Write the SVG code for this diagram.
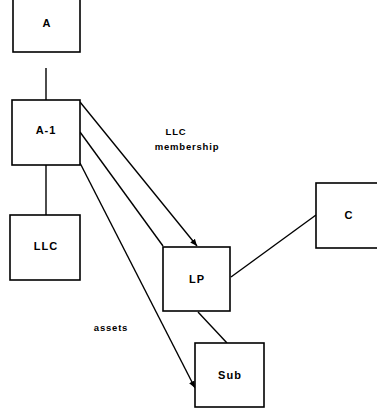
<svg xmlns="http://www.w3.org/2000/svg" width="377" height="408" viewBox="0 0 377 408">
<style>
.box{fill:#fff;stroke:#000;stroke-width:1.6}
.lbl{font-family:"Liberation Sans",Arial,sans-serif;font-weight:bold;font-size:11px;text-anchor:middle;fill:#000;letter-spacing:1px}
.small{font-family:"Liberation Sans",Arial,sans-serif;font-weight:bold;font-size:9.5px;text-anchor:middle;fill:#000;letter-spacing:0.8px}
.edge{stroke:#000;stroke-width:1.4;fill:none}
</style>
<defs>
<marker id="arr" markerWidth="8" markerHeight="8" refX="7" refY="4" orient="auto" markerUnits="userSpaceOnUse">
<path d="M0,1 L7,4 L0,7 Z" fill="#000"/>
</marker>
</defs>
<rect width="377" height="408" fill="#fff"/>
<g id="connectors">
<line class="edge" x1="46" y1="68" x2="46" y2="100"/>
<line class="edge" x1="46" y1="165" x2="46" y2="215"/>
<line class="edge" x1="80" y1="102" x2="197" y2="246" marker-end="url(#arr)"/>
<line class="edge" x1="80" y1="132" x2="163" y2="246"/>
<line class="edge" x1="80" y1="163" x2="195" y2="388" marker-end="url(#arr)"/>
<line class="edge" x1="231" y1="277" x2="316" y2="215"/>
<line class="edge" x1="198" y1="312" x2="227" y2="343"/>
<text class="small" x="176" y="135">LLC</text>
<text class="small" x="187" y="150">membership</text>
<text class="small" x="111" y="331">assets</text>
</g>
<g id="node-A">
<rect class="box" x="13" y="-5" width="67" height="57"/>
<text class="lbl" x="47" y="27">A</text>
</g>
<g id="node-A1">
<rect class="box" x="12" y="100" width="68" height="65"/>
<text class="lbl" x="46" y="134">A-1</text>
</g>
<g id="node-LLC">
<rect class="box" x="10" y="215" width="70" height="65"/>
<text class="lbl" x="46" y="250">LLC</text>
</g>
<g id="node-LP">
<rect class="box" x="163" y="247" width="67" height="64"/>
<text class="lbl" x="197" y="283">LP</text>
</g>
<g id="node-C">
<rect class="box" x="316" y="183" width="74" height="65"/>
<text class="lbl" x="349" y="219">C</text>
</g>
<g id="node-Sub">
<rect class="box" x="195" y="343" width="69" height="64"/>
<text class="lbl" x="230" y="379">Sub</text>
</g>
</svg>
